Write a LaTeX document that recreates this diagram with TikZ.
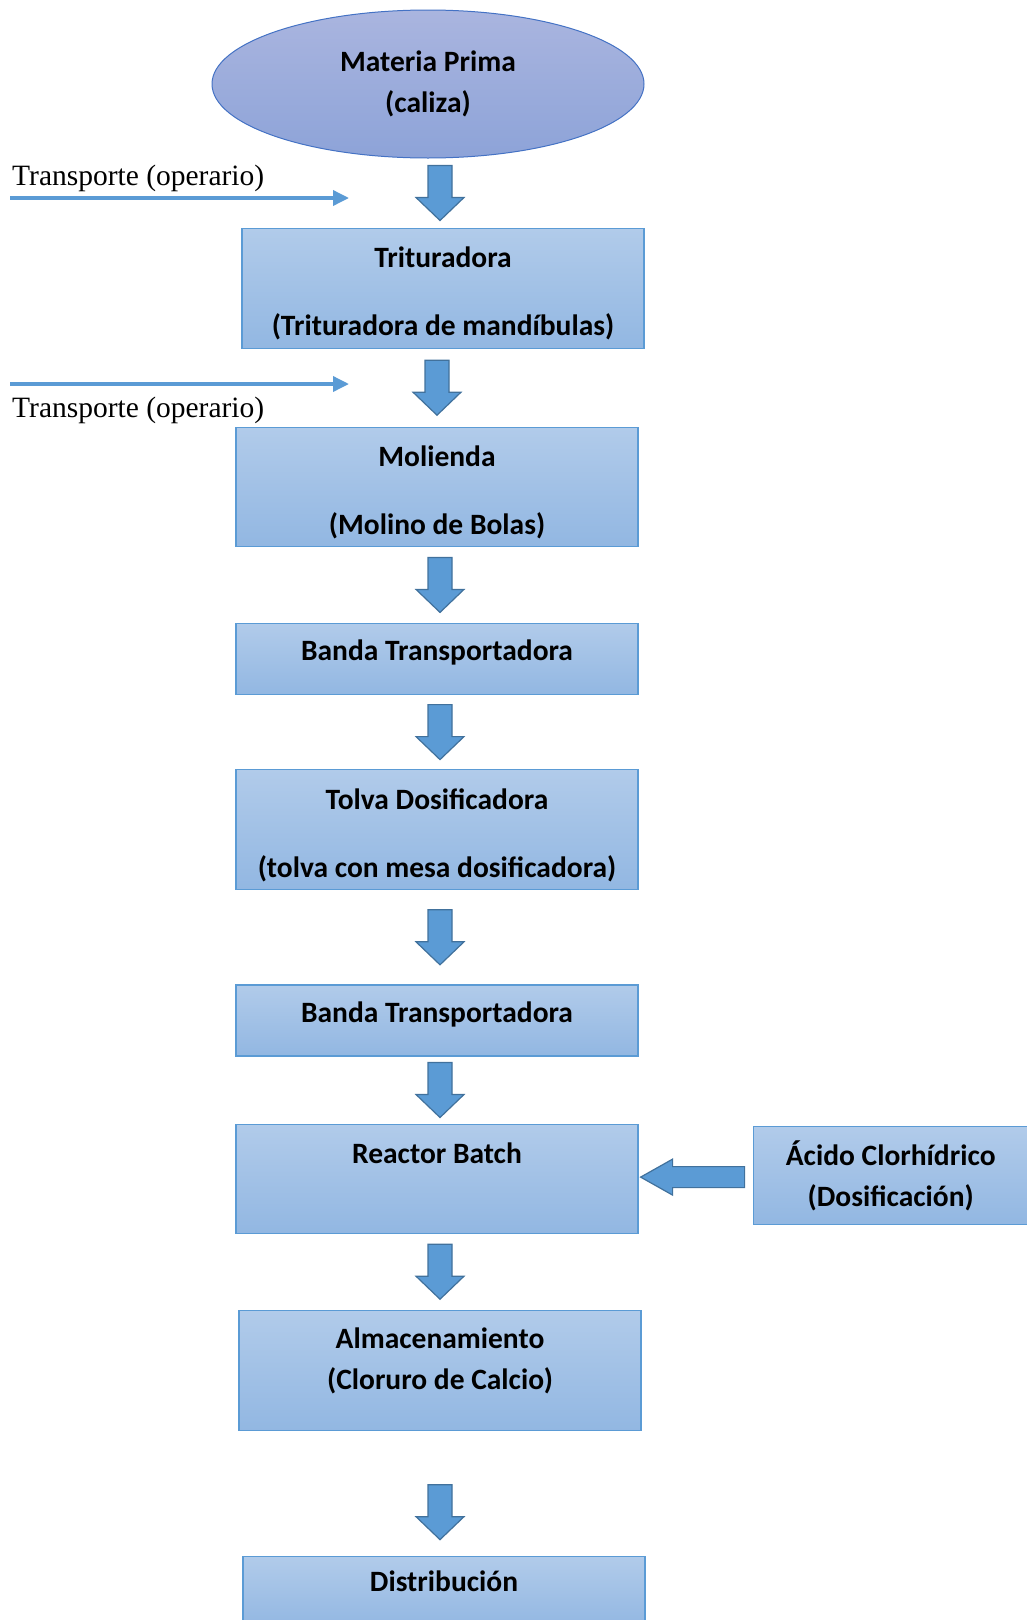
\documentclass[tikz,border=0pt]{standalone}
\usepackage{fontspec}
\setmainfont{Liberation Serif}
\newfontfamily\calibri{Carlito}
\usetikzlibrary{positioning,calc,arrows.meta,shapes.geometric}

\definecolor{bordeazul}{RGB}{91,155,213}
\definecolor{cajaarriba}{RGB}{177,203,234}
\definecolor{cajaabajo}{RGB}{146,183,226}
\definecolor{elipsearriba}{RGB}{170,181,223}
\definecolor{elipseabajo}{RGB}{141,163,216}
\definecolor{bordeelipse}{RGB}{68,114,196}
\definecolor{flechaborde}{RGB}{65,113,156}

\tikzset{
  bajada/.pic={\draw[flechaazul] (-12,27.5) -- (12,27.5) -- (12,-4.5) -- (24,-4.5) -- (0,-27.5) -- (-24,-4.5) -- (-12,-4.5) -- cycle;},
  entrada/.pic={\draw[flechaazul] (52,10.5) -- (-20,10.5) -- (-20,18) -- (-52,0) -- (-20,-18) -- (-20,-10.5) -- (52,-10.5) -- cycle;}
}
\newcommand{\alto}{\rule{0pt}{32pt}}

\begin{document}
\begin{tikzpicture}[x=1pt,y=1pt,
    caja/.style={rectangle,draw=bordeazul,line width=1.2pt,top color=cajaarriba,bottom color=cajaabajo,
      minimum width=402pt,align=center,inner sep=0pt,font=\calibri\bfseries\fontsize{29.5}{34}\selectfont},
    flechaazul/.style={fill=bordeazul,draw=flechaborde,line width=1.2pt,line join=miter},
    transp/.style={draw=bordeazul,line width=3.5pt,-{Triangle[length=16pt,width=15pt]}},
    nota/.style={anchor=west,inner sep=0pt,font=\fontsize{29.5}{35}\selectfont}]
    \useasboundingbox (0,0) rectangle (1027,-1620);
    \coordinate (eje) at (440,0);
    % flujo principal
    \node[ellipse,draw=bordeelipse,line width=1pt,top color=elipsearriba,bottom color=elipseabajo,
      minimum width=432pt,minimum height=148pt,inner sep=0pt,align=center,
      font=\calibri\bfseries\fontsize{29.5}{34}\selectfont] (mp) at (428,-84) {Materia Prima\\[7pt](caliza)};
    \node[caja,minimum height=120pt,below=69pt of mp,xshift=15pt] (tri) {\alto Trituradora\\ \\(Trituradora de mandíbulas)};
    \node[caja,minimum height=119pt,below=78pt of tri,xshift=-6pt] (mol) {\alto Molienda\\ \\(Molino de Bolas)};
    \node[caja,minimum height=71pt,text depth=17pt,below=76pt of mol] (ban1) {Banda Transportadora};
    \node[caja,minimum height=120pt,below=74pt of ban1] (tol) {\alto Tolva Dosificadora\\ \\(tolva con mesa dosificadora)};
    \node[caja,minimum height=71pt,text depth=17pt,below=94pt of tol] (ban2) {Banda Transportadora};
    \node[caja,minimum height=109pt,text height=20pt,text depth=51pt,below=67pt of ban2] (rea) {Reactor Batch};
    \node[caja,minimum height=120pt,text depth=23pt,below=76pt of rea,xshift=3pt] (alm) {Almacenamiento\\[7pt](Cloruro de Calcio)};
    \node[caja,minimum height=71pt,text depth=21pt,below=125pt of alm,xshift=4pt] (dis) {Distribución};
    \node[caja,minimum width=275pt,minimum height=98pt,right=114pt of rea,yshift=3pt] (aci) {Ácido Clorhídrico\\[7pt](Dosificación)};
    % transporte
    \node[nota] (t1) at (12,-178) {Transporte (operario)};
    \coordinate (t1a) at (10,-198);
    \coordinate (t1b) at (349,-198);
    \node[nota] (t2) at (12,-410) {Transporte (operario)};
    \coordinate (t2a) at (10,-384);
    \coordinate (t2b) at (349,-384);
    \draw[transp] (t1a) -- (t1b);
    \draw[transp] (t2a) -- (t2b);
    % flechas de bloque
    \pic at (eje |- {$(mp.south)!.5!(tri.north)$}) {bajada};
    \pic at ([xshift=-3pt]eje |- {$(tri.south)!.5!(mol.north)$}) {bajada};
    \pic at (eje |- {$(mol.south)!.5!(ban1.north)$}) {bajada};
    \pic at (eje |- {$(ban1.south)!.5!(tol.north)$}) {bajada};
    \pic at (eje |- {$(tol.south)!.5!(ban2.north)$}) {bajada};
    \pic at (eje |- {$(ban2.south)!.5!(rea.north)$}) {bajada};
    \pic at (eje |- {$(rea.south)!.5!(alm.north)$}) {bajada};
    \pic at (eje |- {$(alm.south)!.65!(dis.north)$}) {bajada};
    \pic at ($(rea.east)!.5!(aci.west)+(-3,0)$) {entrada};
\end{tikzpicture}
\end{document}
